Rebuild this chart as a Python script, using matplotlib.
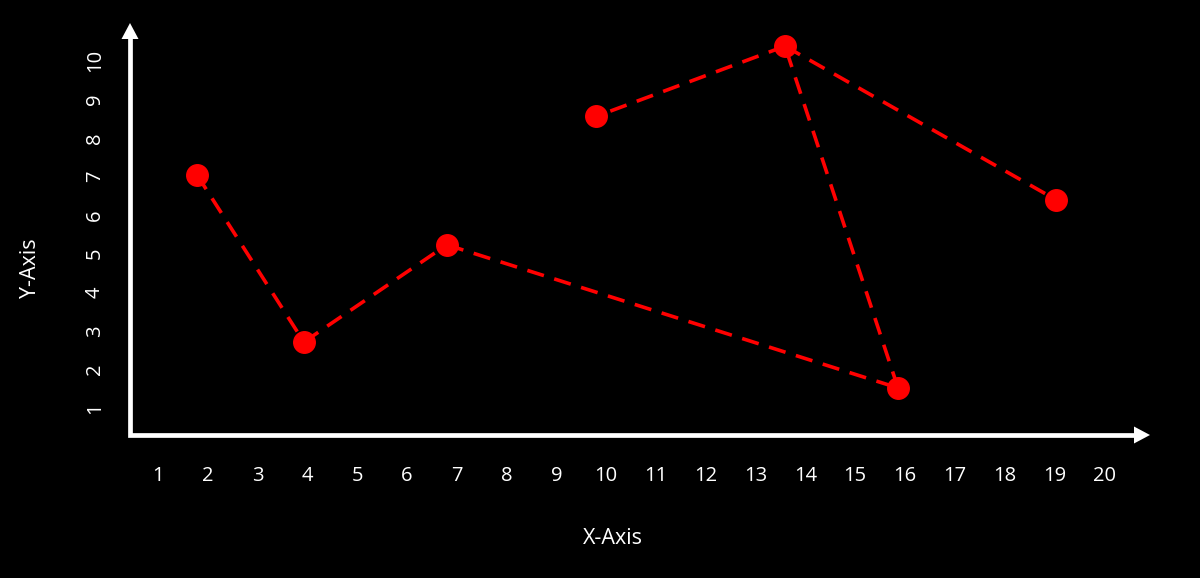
import matplotlib
matplotlib.use("Agg")
import matplotlib.pyplot as plt
from matplotlib.patches import Polygon

# Data
x_vals = [1.78, 3.93, 6.80, 15.86, 13.59, 9.80, 19.03]
y_vals = [7.05, 2.71, 5.23, 1.52, 10.38, 8.56, 6.40]
# connections between points (indices)
edges = [(0, 1), (1, 2), (2, 3), (3, 4), (4, 5), (4, 6)]
x_ticks = list(range(1, 21))
y_ticks = list(range(1, 11))

plt.rcParams['font.family'] = ['Open Sans', 'DejaVu Sans']

fig = plt.figure(figsize=(12, 5.78), dpi=100, facecolor='black')
W, H = 1200, 578
AW, AH = 1150 - 130, 435 - 23
ax = fig.add_axes([130 / W, (H - 435) / H, AW / W, AH / H])
ax.set_facecolor('black')
ax.set_xlim(0.438, 20.92)
ax.set_ylim(0.30, 10.98)

for s in ax.spines.values():
    s.set_visible(False)

for i, j in edges:
    ax.plot([x_vals[i], x_vals[j]], [y_vals[i], y_vals[j]], color='#ff0000',
            lw=2.6, dashes=[4.8, 3.0], zorder=2, dash_capstyle='butt')
ax.plot(x_vals, y_vals, 'o', color='#ff0000', markersize=15.5, zorder=3)

# L-shaped axis lines
hl, hw = 16, 8.5
ax.plot([0, 0, 1 - (hl - 2) / AW], [1 - (hl - 2) / AH, 0, 0], transform=ax.transAxes, color='white', lw=3.4,
        solid_joinstyle='miter', solid_capstyle='projecting', clip_on=False, zorder=4)
# arrowheads
ax.add_patch(Polygon([(1, 0), (1 - hl / AW, hw / AH), (1 - hl / AW, -hw / AH)], closed=True,
                     transform=ax.transAxes, color='white', clip_on=False, zorder=4, lw=0))
ax.add_patch(Polygon([(0, 1), (-hw / AW, 1 - hl / AH), (hw / AW, 1 - hl / AH)], closed=True,
                     transform=ax.transAxes, color='white', clip_on=False, zorder=4, lw=0))

ax.set_xticks(x_ticks)
ax.set_xticklabels([str(t) for t in x_ticks])
ax.set_yticks(y_ticks)
ax.set_yticklabels([str(t) for t in y_ticks], rotation=90, va='center')
ax.tick_params(axis='both', length=0, colors='white', labelsize=14.5)
ax.tick_params(axis='x', pad=22)
ax.tick_params(axis='y', pad=18)

fig.text(613 / W, 1 - 538 / H, 'X-Axis', color='white', fontsize=15.5, ha='center', va='center')
fig.text(30 / W, 1 - 268 / H, 'Y-Axis', color='white', fontsize=15.5, ha='center', va='center', rotation=90)

fig.savefig('out.png', dpi=100, facecolor='black')
